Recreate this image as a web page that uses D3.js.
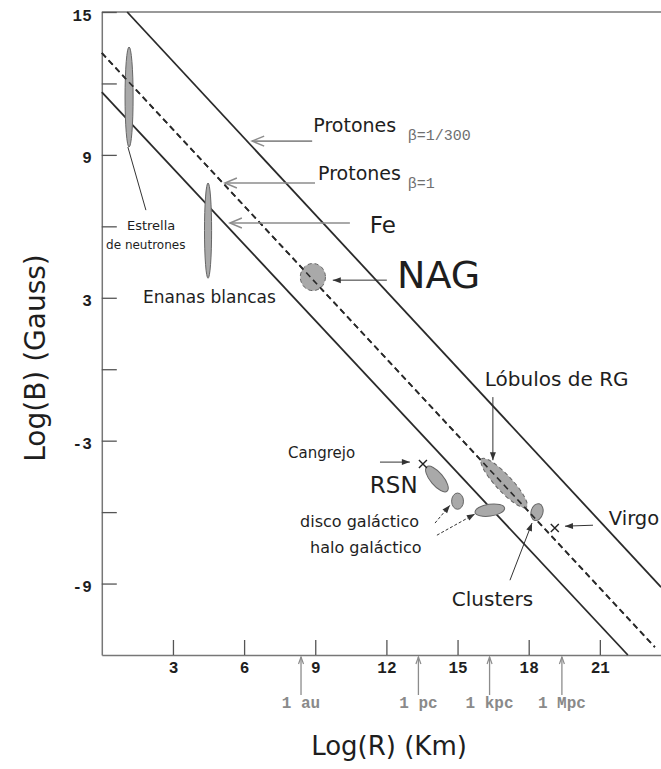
<!DOCTYPE html>
<html>
<head>
<meta charset="utf-8">
<script src="https://cdn.jsdelivr.net/npm/d3@7"></script>
<style>
body { margin: 0; background: #fff; }
svg text { font-family: "DejaVu Sans", sans-serif; fill: #1e1e1e; }
.tick text, .mono { font-family: "Liberation Mono", "Courier New", monospace; font-weight: bold; }
</style>
</head>
<body>
<svg id="chart" width="661" height="769"></svg>
<script>
// axes: log R (km) and log B (gauss)
var xTicks = [3, 6, 9, 12, 15, 18, 21];
var yTicks = [-9, -6, -3, 0, 3, 6, 9, 12, 15];
var yLabelled = [15, 9, 3, -3, -9];

// Hillas limits, endpoints in [logR, logB]
var limitLines = [
    {name: "Protones b=1/300", from: [1.07, 15], to: [23.58, -9.15], dashed: false},
    {name: "Protones b=1", from: [0, 13.28], to: [23.32, -11.67], dashed: true},
    {name: "Fe", from: [0, 11.64], to: [22.18, -12], dashed: false}
];

// sources: centre, half size along R and B (log units), tilt in degrees
var sources = [
    {name: "Estrella de neutrones", r: 1.15, b: 11.43, dr: 0.17, db: 2.1, tilt: 0},
    {name: "Enanas blancas", r: 4.48, b: 5.82, dr: 0.15, db: 2.0, tilt: 0},
    {name: "NAG", r: 8.9, b: 3.87, dr: 0.53, db: 0.57, tilt: 0, dashed: true},
    {name: "Lobulos de RG", r: 16.96, b: -4.78, dr: 1.39, db: 0.34, tilt: 47, dashed: true},
    {name: "RSN", r: 14.13, b: -4.61, dr: 0.67, db: 0.27, tilt: 50},
    {name: "disco galactico", r: 15.0, b: -5.54, dr: 0.25, db: 0.34, tilt: 0},
    {name: "halo galactico", r: 16.36, b: -5.92, dr: 0.63, db: 0.25, tilt: -8},
    {name: "Clusters", r: 18.35, b: -6.0, dr: 0.25, db: 0.36, tilt: 15}
];

var crosses = [
    {name: "Cangrejo", r: 13.54, b: -3.98},
    {name: "Virgo", r: 19.1, b: -6.67}
];

var pointers = [
    {from: [8.87, 9.58], to: [6.34, 9.58], kind: "open"},
    {from: [8.99, 7.82], to: [5.19, 7.82], kind: "open"},
    {from: [10.46, 6.14], to: [5.40, 6.14], kind: "open"},
    {from: [12.02, 3.74], to: [9.74, 3.74], kind: "solid"},
    {from: [1.10, 9.33], to: [1.86, 6.68], kind: "plain"},
    {from: [16.49, -1.17], to: [16.49, -3.82], kind: "solid"},
    {from: [11.73, -3.90], to: [12.99, -3.90], kind: "solid"},
    {from: [14.05, -6.46], to: [14.68, -5.71], kind: "dashed"},
    {from: [14.13, -6.97], to: [15.73, -6.08], kind: "dashed"},
    {from: [20.71, -6.55], to: [19.53, -6.59], kind: "solid"},
    {from: [17.21, -8.86], to: [18.14, -6.46], kind: "solid"}
];

var labels = [
    {text: "Protones", r: 8.92, b: 9.96},
    {text: "β=1/300", r: 12.9, b: 9.62, sub: true},
    {text: "Protones", r: 9.12, b: 7.94},
    {text: "β=1", r: 12.9, b: 7.61, sub: true},
    {text: "Fe", r: 11.3, b: 5.72},
    {text: "NAG", r: 12.45, b: 3.41},
    {text: "Estrella", r: 1.06, b: 5.84},
    {text: "de neutrones", r: 0.18, b: 5.05},
    {text: "Enanas blancas", r: 1.74, b: 2.78},
    {text: "Lóbulos de RG", r: 16.15, b: -0.71},
    {text: "Cangrejo", r: 7.85, b: -3.73},
    {text: "RSN", r: 11.3, b: -5.2},
    {text: "disco galáctico", r: 8.36, b: -6.63},
    {text: "halo galáctico", r: 8.78, b: -7.72},
    {text: "Clusters", r: 14.76, b: -9.95},
    {text: "Virgo", r: 21.38, b: -6.55}
];

var fontSize = {
    "Protones": 19, "β=1/300": 15, "β=1": 15, "Fe": 23, "NAG": 38,
    "Estrella": 13, "de neutrones": 12, "Enanas blancas": 17,
    "Lóbulos de RG": 20, "Cangrejo": 15, "RSN": 23,
    "disco galáctico": 16, "halo galáctico": 16, "Clusters": 20, "Virgo": 19.5
};

// distance units marked under the R axis
var units = [
    {label: "1 au", r: 8.4},
    {label: "1 pc", r: 13.35},
    {label: "1 kpc", r: 16.35},
    {label: "1 Mpc", r: 19.4}
];

var x = d3.scaleLinear().domain([0, 24]).range([101.8, 671]);
var y = d3.scaleLinear().domain([-12, 15]).range([655, 12]);
var kx = x(1) - x(0), ky = y(0) - y(1);

var svg = d3.select("#chart");

var defs = svg.append("defs");
defs.append("marker").attr("id", "open")
    .attr("viewBox", "-14 -7 16 14").attr("refX", 0).attr("refY", 0)
    .attr("markerUnits", "userSpaceOnUse").attr("markerWidth", 16).attr("markerHeight", 14)
    .attr("orient", "auto")
    .append("path").attr("d", "M-12,-5L0,0L-12,5")
    .attr("fill", "none").attr("stroke", "#8c8c8c").attr("stroke-width", 1.5);
defs.append("marker").attr("id", "solid")
    .attr("viewBox", "-10 -5 11 10").attr("refX", 0).attr("refY", 0)
    .attr("markerUnits", "userSpaceOnUse").attr("markerWidth", 11).attr("markerHeight", 10)
    .attr("orient", "auto")
    .append("path").attr("d", "M-8,-3L0,0L-8,3Z").attr("fill", "#333");
defs.append("marker").attr("id", "unit")
    .attr("viewBox", "-8 -4 9 8").attr("refX", 0).attr("refY", 0)
    .attr("markerUnits", "userSpaceOnUse").attr("markerWidth", 9).attr("markerHeight", 8)
    .attr("orient", "auto")
    .append("path").attr("d", "M-7,-2.5L0,0L-7,2.5")
    .attr("fill", "none").attr("stroke", "#8c8c8c").attr("stroke-width", 1.2);

// frame top edge
svg.append("line")
    .attr("x1", x(0)).attr("x2", x(24))
    .attr("y1", y(15)).attr("y2", y(15))
    .attr("stroke", "#777").attr("stroke-width", 1.5);

var yAxis = d3.axisLeft(y)
    .tickValues(yTicks)
    .tickSize(-15).tickSizeOuter(0).tickPadding(10)
    .tickFormat(function (d) { return yLabelled.indexOf(d) >= 0 ? String(d) : ""; });

var yg = svg.append("g").attr("transform", "translate(" + x(0) + ",0)").call(yAxis);

var xAxis = d3.axisBottom(x)
    .tickValues(xTicks)
    .tickSize(-15).tickSizeOuter(0).tickPadding(7)
    .tickFormat(function (d) { return String(d); });

var xg = svg.append("g").attr("transform", "translate(0," + y(-12) + ")").call(xAxis);

[yg, xg].forEach(function (g) {
    g.select(".domain").attr("stroke", "#777").attr("stroke-width", 1.5);
    g.selectAll(".tick line").attr("stroke", "#555").attr("stroke-width", 1.3);
    g.selectAll(".tick text").attr("font-size", 16).attr("fill", "#222");
});
yg.selectAll(".tick text").attr("dy", "0.5em");

// limit lines
svg.selectAll(".limit")
    .data(limitLines)
    .enter()
    .append("line")
    .attr("class", "limit")
    .attr("x1", function (d) { return x(d.from[0]); })
    .attr("y1", function (d) { return y(d.from[1]); })
    .attr("x2", function (d) { return x(d.to[0]); })
    .attr("y2", function (d) { return y(d.to[1]); })
    .attr("stroke", "#2a2a2a")
    .attr("stroke-width", 1.8)
    .attr("stroke-dasharray", function (d) { return d.dashed ? "6,4" : null; });

// sources
svg.selectAll(".source")
    .data(sources)
    .enter()
    .append("ellipse")
    .attr("class", "source")
    .attr("cx", function (d) { return x(d.r); })
    .attr("cy", function (d) { return y(d.b); })
    .attr("rx", function (d) { return d.dr * kx; })
    .attr("ry", function (d) { return d.db * ky; })
    .attr("transform", function (d) { return "rotate(" + d.tilt + "," + x(d.r) + "," + y(d.b) + ")"; })
    .attr("fill", "#a9a9a9")
    .attr("stroke", "#666")
    .attr("stroke-width", 1)
    .attr("stroke-dasharray", function (d) { return d.dashed ? "4,3" : null; });

// the beta=1 line runs through NAG and the lobes
svg.selectAll(".over")
    .data(limitLines.filter(function (d) { return d.dashed; }))
    .enter()
    .append("line")
    .attr("class", "over")
    .attr("x1", function (d) { return x(d.from[0]); })
    .attr("y1", function (d) { return y(d.from[1]); })
    .attr("x2", function (d) { return x(d.to[0]); })
    .attr("y2", function (d) { return y(d.to[1]); })
    .attr("stroke", "#2a2a2a")
    .attr("stroke-width", 1.6)
    .attr("stroke-dasharray", "6,4");

// crosses
svg.selectAll(".cross")
    .data(crosses)
    .enter()
    .append("path")
    .attr("class", "cross")
    .attr("d", function (d) {
        var cx = x(d.r), cy = y(d.b), s = 4;
        return "M" + (cx - s) + "," + (cy - s) + "L" + (cx + s) + "," + (cy + s) +
            "M" + (cx + s) + "," + (cy - s) + "L" + (cx - s) + "," + (cy + s);
    })
    .attr("stroke", "#222").attr("stroke-width", 1.4);

// pointer arrows
svg.selectAll(".pointer")
    .data(pointers)
    .enter()
    .append("line")
    .attr("class", "pointer")
    .attr("x1", function (d) { return x(d.from[0]); })
    .attr("y1", function (d) { return y(d.from[1]); })
    .attr("x2", function (d) { return x(d.to[0]); })
    .attr("y2", function (d) { return y(d.to[1]); })
    .attr("stroke", function (d) { return d.kind == "open" ? "#8c8c8c" : "#333"; })
    .attr("stroke-width", function (d) { return d.kind == "open" ? 1.6 : 1; })
    .attr("stroke-dasharray", function (d) { return d.kind == "dashed" ? "3,2" : null; })
    .attr("marker-end", function (d) {
        if (d.kind == "open") return "url(#open)";
        if (d.kind == "plain") return null;
        return "url(#solid)";
    });

// labels
svg.selectAll(".label")
    .data(labels)
    .enter()
    .append("text")
    .attr("class", function (d) { return d.sub ? "label mono" : "label"; })
    .attr("x", function (d) { return x(d.r); })
    .attr("y", function (d) { return y(d.b); })
    .attr("font-size", function (d) { return fontSize[d.text]; })
    .style("font-weight", function (d) { return d.sub ? "normal" : null; })
    .style("fill", function (d) { return d.sub ? "#6f6f6f" : null; })
    .text(function (d) { return d.text; });

// distance units
var unit = svg.selectAll(".unit")
    .data(units)
    .enter()
    .append("g")
    .attr("class", "unit");

unit.append("line")
    .attr("x1", function (d) { return x(d.r); })
    .attr("x2", function (d) { return x(d.r); })
    .attr("y1", y(-12) + 40)
    .attr("y2", y(-12) + 2)
    .attr("stroke", "#8c8c8c")
    .attr("stroke-width", 1.3)
    .attr("marker-end", "url(#unit)");

unit.append("text")
    .attr("class", "mono")
    .attr("x", function (d) { return x(d.r); })
    .attr("y", y(-12) + 53)
    .attr("text-anchor", "middle")
    .attr("font-size", 16)
    .style("fill", "#8a8a8a")
    .text(function (d) { return d.label; });

// axis titles
svg.append("text")
    .attr("transform", "translate(45,358) rotate(-90)")
    .attr("text-anchor", "middle")
    .attr("font-size", 28)
    .text("Log(B) (Gauss)");

svg.append("text")
    .attr("x", 389)
    .attr("y", 755)
    .attr("text-anchor", "middle")
    .attr("font-size", 26)
    .text("Log(R) (Km)");
</script>
</body>
</html>
